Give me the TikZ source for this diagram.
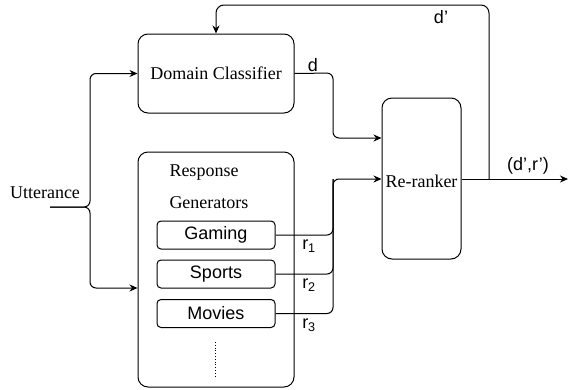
\documentclass[tikz,border=0pt]{standalone}
\usepackage{fontspec}
\setmainfont{Liberation Serif}
\setsansfont{Liberation Sans}
\usepackage{tikz}
\usetikzlibrary{positioning,calc,arrows.meta}

\begin{document}
\begin{tikzpicture}
[
   x=1pt, y=-1pt,
   line width=1pt,
   font=\fontsize{18}{21}\selectfont,
   every node/.style={inner sep=2pt}
]

\tikzset{block/.style = {shape=rectangle, draw, rounded corners=10pt}}
\tikzset{model/.style = {shape=rectangle, draw, rounded corners=4pt, minimum width=118pt, minimum height=28pt, font=\fontsize{18}{21}\selectfont\sffamily}}
\tikzset{edge/.style = {-{Stealth[length=8pt,width=7pt]}, rounded corners=6pt}}
\tikzset{lbl/.style = {font=\fontsize{18}{21}\selectfont\sffamily}}

\useasboundingbox (0,0) rectangle (574,389);

% nodes
\node[block, minimum width=156pt, minimum height=79pt] (dc) at (216,73.5) {Domain Classifier};
\node[block, minimum width=156pt, minimum height=235pt] (rg) at (216,269.5) {};
\node[anchor=west] (resp) at (167,173) {Response};
\node[anchor=west] (gen) at (167,203) {Generators};
\node[model] (gaming) at (216,235) {Gaming};
\node[model] (sports) at (216,274) {Sports};
\node[model] (movies) at (216,313.5) {Movies};
\node[block, minimum width=79pt, minimum height=161pt] (rr) at (421.5,178.5) {};
\node (rrtext) at (421.5,181) {Re-ranker};
\node (utt) at (45,193) {Utterance};
\coordinate (uttin) at (50,207);
\coordinate (merge) at (333,179);
\coordinate (fb) at (489,179);
\coordinate (out) at (568,179);

% arcs
\draw[edge] (uttin) -- (90,207) |- (dc.west);
\draw[edge] (uttin) -- (90,207) |- (rg.west |- 0,288);
\draw[edge] (dc.east) -- (333,73) |- ([yshift=40.5pt]rr.west);
\draw[edge] (gaming.east) -| (merge) -- (rr.west |- merge);
\draw[rounded corners=6pt] (sports.east) -| (merge);
\draw[rounded corners=6pt] (movies.east) -| (merge);
\draw[edge] (rr.east |- merge) -- (out);
\draw[edge, rounded corners=8pt] (fb) -- (489,5) -| (dc.north);
\draw[dotted, line width=0.8pt] (215,342) -- (215,377);

% labels
\node[lbl] at (313,65) {d};
\node[lbl] at (441,17) {d'};
\node[lbl] at (528,166) {(d',r')};
\node[lbl] at (309,246) {r\textsubscript{1}};
\node[lbl] at (309,285) {r\textsubscript{2}};
\node[lbl] at (309,325) {r\textsubscript{3}};
\end{tikzpicture}
\end{document}
